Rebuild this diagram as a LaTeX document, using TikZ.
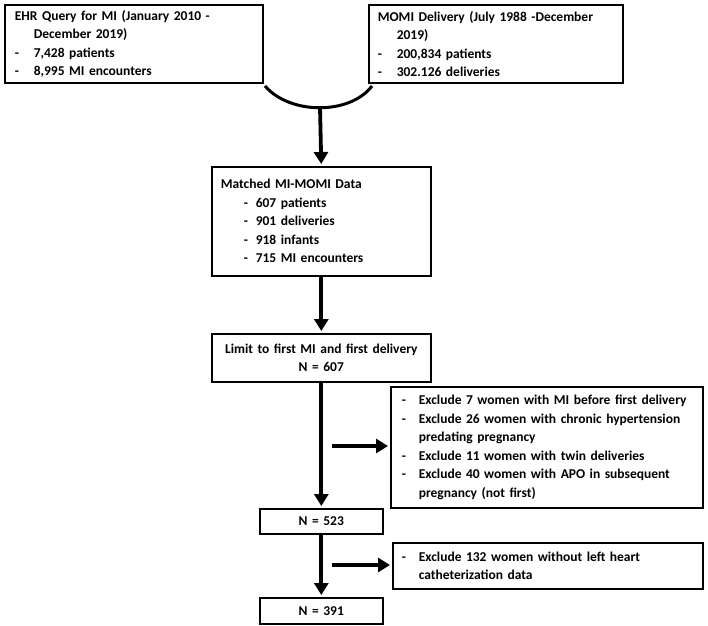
\documentclass[tikz,border=0pt]{standalone}
\usepackage{fontspec}
\setmainfont{Carlito}
\usetikzlibrary{arrows.meta}
\newcommand\dashit[2]{\makebox[#1][l]{-}}
\begin{document}
\begin{tikzpicture}[x=1pt,y=-1pt,
  box/.style={draw, line width=1.6pt, anchor=north west, inner ysep=0pt,
    font=\fontsize{13.5}{18.5}\selectfont\bfseries},
  lbox/.style={box, align=left},
  cbox/.style={box, align=center},
  arr/.style={line width=3.8pt, -{Triangle[length=12pt,width=14pt]}, shorten >=2pt},
]
\useasboundingbox (0,0) rectangle (708,625);

\node[lbox, inner xsep=10pt, text width=238pt, minimum height=78pt] (ehr) at (4,4)
  {EHR Query for MI (January 2010 -\\
   \hspace*{19pt}December 2019)\\
   \dashit{19pt}{}7,428 patients\\
   \dashit{19pt}{}8,995 MI encounters};

\node[lbox, inner xsep=9pt, text width=236pt, minimum height=78pt] (momi) at (368,4)
  {MOMI Delivery (July 1988 -December\\
   \hspace*{19pt}2019)\\
   \dashit{19pt}{}200,834 patients\\
   \dashit{19pt}{}302.126 deliveries};

\node[lbox, inner xsep=9pt, text width=201pt, minimum height=109pt] (match) at (211,166)
  {Matched MI-MOMI Data\\
   \hspace*{23pt}\dashit{12pt}{}607 patients\\
   \hspace*{23pt}\dashit{12pt}{}901 deliveries\\
   \hspace*{23pt}\dashit{12pt}{}918 infants\\
   \hspace*{23pt}\dashit{12pt}{}715 MI encounters};

\node[cbox, inner xsep=4pt, text width=211pt, minimum height=48pt] (limit) at (211,333)
  {Limit to first MI and first delivery\\N = 607};

\node[lbox, inner xsep=11pt, text width=290pt, minimum height=121pt] (ex1) at (390,386)
  {\dashit{17pt}{}Exclude 7 women with MI before first delivery\\
   \dashit{17pt}{}Exclude 26 women with chronic hypertension\\
   \hspace*{17pt}predating pregnancy\\
   \dashit{17pt}{}Exclude 11 women with twin deliveries\\
   \dashit{17pt}{}Exclude 40 women with APO in subsequent\\
   \hspace*{17pt}pregnancy (not first)};

\node[cbox, inner xsep=4pt, text width=115pt, minimum height=25pt] (n523) at (259,508) {N = 523};

\node[lbox, inner xsep=9pt, text width=292pt, minimum height=46pt] (ex2) at (392,542)
  {\dashit{17pt}{}Exclude 132 women without left heart\\
   \hspace*{17pt}catheterization data};

\node[cbox, inner xsep=4pt, text width=115pt, minimum height=26pt] (n391) at (259,597) {N = 391};

\coordinate (arcL) at (265,86);
\coordinate (arcR) at (372,86);
\coordinate (arcB) at (320,107);
\coordinate (h1) at (332,446);
\coordinate (h2) at (332,565);

\draw[line width=3pt] (arcL) .. controls (290,115) and (350,115) .. (arcR);
\draw[arr] (arcB) -- (match.north);
\draw[arr] (match.south) -- (limit.north);
\draw[arr] (limit.south) -- (n523.north);
\draw[arr] (n523.south) -- (n391.north);
\draw[arr] (h1) -- (h1 -| ex1.west);
\draw[arr] (h2) -- (h2 -| ex2.west);
\end{tikzpicture}
\end{document}
